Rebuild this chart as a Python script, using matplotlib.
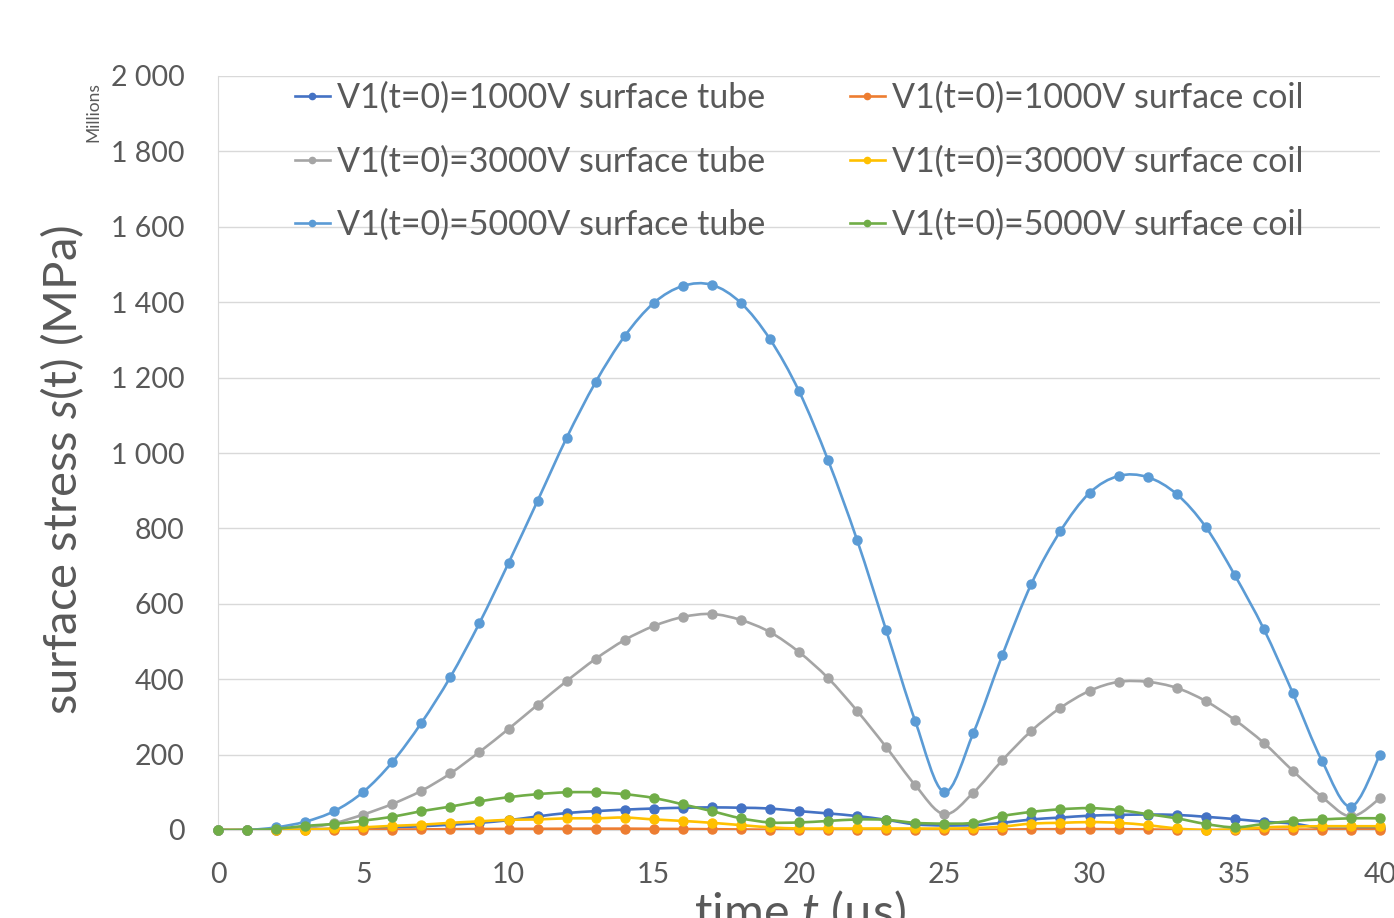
import matplotlib
matplotlib.use("Agg")
import matplotlib.pyplot as plt
from matplotlib.path import Path
from matplotlib.patches import PathPatch
from matplotlib.lines import Line2D
from matplotlib.ticker import FuncFormatter

plt.rcParams['font.family'] = ['Lato', 'DejaVu Sans']
plt.rcParams['mathtext.fontset'] = 'custom'
plt.rcParams['mathtext.it'] = 'Lato:italic'
plt.rcParams['mathtext.rm'] = 'Lato'

# ---- data ----
t = list(range(41))
tube_1000 = [0, 0, 1, 2, 3, 5, 7, 10, 14, 19, 26, 36, 45, 50, 54, 57, 59, 60, 59, 57, 50,
             44, 37, 27, 15, 12, 13, 19, 28, 33, 38, 40, 41, 40, 35, 29, 22, 17, 5, 4, 6]
coil_1000 = [0, 0, 0, 0, 0.5, 0.8, 1.2, 1.6, 2.1, 2.6, 3.0, 3.1, 3.4, 3.5, 3.6, 3.1, 2.7, 2.1, 1.5, 0.8, 0.5,
             0.5, 0.5, 0.5, 0.5, 0.5, 0.6, 1.0, 1.9, 2.1, 2.3, 2.1, 1.5, 0.5, 0, 0.2, 0.8, 1.0, 1.1, 1.1, 1.1]
tube_3000 = [0, 0, 2, 5, 18, 41, 69, 104, 150, 207, 268, 332, 395, 454, 504, 541, 565, 573, 557, 525, 472,
             403, 316, 220, 119, 42, 99, 185, 263, 324, 369, 393, 393, 377, 342, 292, 231, 157, 88, 36, 84]
coil_3000 = [0, 0, 0, 1, 4, 7, 11, 14, 19, 23, 27, 28, 31, 31, 33, 28, 24, 19, 13, 7, 4,
             4, 4, 4, 4, 4, 5, 9, 17, 19, 21, 19, 13, 4, 0, 2, 7, 9, 10, 10, 10]
tube_5000 = [0, 0, 7, 22, 50, 101, 180, 284, 406, 549, 708, 873, 1040, 1188, 1310, 1398, 1443, 1446, 1398, 1302, 1164,
             981, 769, 530, 289, 101, 257, 464, 653, 793, 894, 939, 936, 891, 804, 676, 533, 363, 184, 62, 200]
coil_5000 = [0, 0, 3, 11, 16, 25, 35, 50, 62, 76, 87, 95, 100, 100, 95, 85, 68, 50, 31, 20, 20,
             24, 28, 27, 19, 17, 19, 37, 48, 55, 58, 53, 42, 31, 16, 7, 16, 24, 28, 31, 31]

labels = ["V1(t=0)=1000V surface tube", "V1(t=0)=1000V surface coil",
          "V1(t=0)=3000V surface tube", "V1(t=0)=3000V surface coil",
          "V1(t=0)=5000V surface tube", "V1(t=0)=5000V surface coil"]
series = [tube_1000, coil_1000, tube_3000, coil_3000, tube_5000, coil_5000]
colors = ["#4472C4", "#ED7D31", "#A5A5A5", "#FFC000", "#5B9BD5", "#70AD47"]

x_ticks = [0, 5, 10, 15, 20, 25, 30, 35, 40]
y_ticks = [0, 200, 400, 600, 800, 1000, 1200, 1400, 1600, 1800, 2000]

TXT = "#595959"


def smooth_path(xs, ys):
    n = len(xs)
    pts = list(zip(xs, ys))
    verts = [pts[0]]
    codes = [Path.MOVETO]
    for i in range(n - 1):
        p0 = pts[i - 1] if i > 0 else pts[i]
        p1 = pts[i]
        p2 = pts[i + 1]
        p3 = pts[i + 2] if i + 2 < n else pts[i + 1]
        c1 = (p1[0] + (p2[0] - p0[0]) / 6.0, p1[1] + (p2[1] - p0[1]) / 6.0)
        c2 = (p2[0] - (p3[0] - p1[0]) / 6.0, p2[1] - (p3[1] - p1[1]) / 6.0)
        verts += [c1, c2, p2]
        codes += [Path.CURVE4] * 3
    return Path(verts, codes)


fig = plt.figure(figsize=(13.94, 9.18), dpi=100)
ax = fig.add_axes([218 / 1394, 1 - 830 / 918, (1380 - 218) / 1394, (830 - 76) / 918])

for ys, c in zip(series, colors):
    patch = PathPatch(smooth_path(t, ys), facecolor='none', edgecolor=c, lw=1.9,
                      capstyle='round', joinstyle='round', zorder=3)
    ax.add_patch(patch)
    ax.plot(t, ys, linestyle='none', marker='o', markersize=6.5, color=c, zorder=3,
            clip_on=False)

ax.set_xlim(0, 40)
ax.set_ylim(0, 2000)
ax.set_xticks(x_ticks)
ax.set_yticks(y_ticks)
ax.yaxis.set_major_formatter(FuncFormatter(lambda v, p: f"{v:,.0f}".replace(",", " ")))
ax.grid(axis='y', color='#D9D9D9', lw=1.0, zorder=0)
ax.set_axisbelow(True)
for s in ['top', 'right']:
    ax.spines[s].set_visible(False)
ax.spines['left'].set_color('#D9D9D9')
ax.spines['bottom'].set_color('#D9D9D9')
ax.tick_params(axis='both', length=0, labelsize=20.5, colors=TXT)
ax.tick_params(axis='x', pad=23)
ax.tick_params(axis='y', pad=24)

# legend: column-major ordering -> rows of (tube, coil)
order = [0, 2, 4, 1, 3, 5]
handles = [Line2D([], [], color=colors[i], lw=1.9, marker='o', markersize=4.5) for i in order]
leg = ax.legend(handles, [labels[i] for i in order], ncol=2, loc='upper left',
                bbox_to_anchor=(0.066, 0.993), frameon=False, fontsize=24.5,
                handlelength=1.03, handletextpad=0.2, columnspacing=2.5,
                labelspacing=0.93, borderpad=0, borderaxespad=0)
for txt in leg.get_texts():
    txt.set_color(TXT)

fig.text(62 / 1394, 1 - 470 / 918, r"surface stress $s$(t) (MPa)", rotation=90,
         ha='center', va='center', fontsize=34, color=TXT)
fig.text(800 / 1394, 1 - 888 / 918, r"time $t$ (μs)", ha='center', va='top',
         fontsize=35, color=TXT)
fig.text(93 / 1394, 1 - 112 / 918, "Millions", rotation=90, ha='center', va='center',
         fontsize=12.5, color=TXT)

fig.savefig("out.png", dpi=100)
